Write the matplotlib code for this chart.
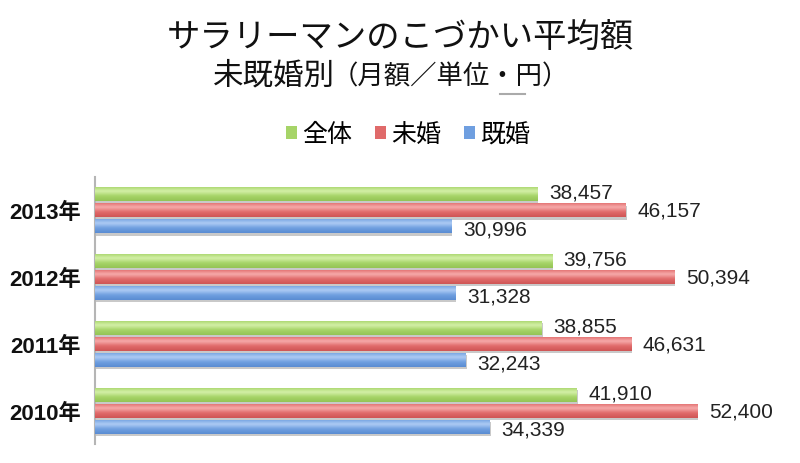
import numpy as np
import matplotlib
matplotlib.use("Agg")
import matplotlib.pyplot as plt
import matplotlib.patheffects as pe
from matplotlib.colors import LinearSegmentedColormap
from matplotlib.patches import Patch

plt.rcParams['font.family'] = ['Noto Sans CJK JP', 'DejaVu Sans']

years = ["2013年", "2012年", "2011年", "2010年"]
series_names = ["全体", "未婚", "既婚"]
zentai = [38457, 39756, 38855, 41910]
mikon = [46157, 50394, 46631, 52400]
kikon = [30996, 31328, 32243, 34339]
series_values = [zentai, mikon, kikon]

base_colors = ["#a6d468", "#e06a6a", "#6f9fe0"]
light_colors = ["#d4f0a8", "#f6aaaa", "#aecbf4"]
dark_colors = ["#94c455", "#cf5555", "#5a8cd2"]

fig = plt.figure(figsize=(8, 4.64), dpi=100)
ax = fig.add_axes([0.11875, 0.041, 0.8625, 0.5754])

n = len(years)
y = np.arange(n)[::-1]
h = 0.21
pitch = 0.24
offsets = [-pitch, 0, pitch]  # green top

ax.set_xlim(0, 60000)
ax.set_ylim(-0.5, 3.5)

for si, (vals, name) in enumerate(zip(series_values, series_names)):
    ypos = y - offsets[si]
    bars = ax.barh(ypos, vals, height=h, color=base_colors[si], label=name,
                   zorder=2,
                   path_effects=[pe.SimplePatchShadow(offset=(0.6, -1.6), shadow_rgbFace='#888888', alpha=0.45), pe.Normal()])
    cmap = LinearSegmentedColormap.from_list("g%d" % si, [dark_colors[si], base_colors[si], light_colors[si], base_colors[si]])
    grad = np.linspace(0, 1, 64).reshape(-1, 1)
    for b, v in zip(bars, vals):
        x0, y0 = b.get_x(), b.get_y()
        w, hh = b.get_width(), b.get_height()
        im = ax.imshow(grad, cmap=cmap, aspect='auto', extent=[x0, x0 + w, y0, y0 + hh],
                       origin='lower', zorder=3, interpolation='bicubic')
        im.set_clip_path(b)
        dy = {0: 0.03, 1: 0.0, 2: -0.04}[si]
        ax.text(v + 1000, b.get_y() + hh / 2 + dy, f"{v:,}", va='center', ha='left',
                fontsize=15, color='#222222', zorder=4,
                family=['Liberation Sans', 'DejaVu Sans'])

ax.set_yticks(y)
ax.set_yticklabels(years, fontsize=16, fontweight='bold', color='#111111',
                   family=['Liberation Sans', 'Noto Sans CJK JP'])
ax.tick_params(axis='y', length=0, pad=10)
ax.set_xticks([])
for s in ['top', 'right', 'bottom']:
    ax.spines[s].set_visible(False)
ax.spines['left'].set_color('#b5b5b5')
ax.spines['left'].set_linewidth(1.5)
ax.set_xlim(0, 60000)
ax.set_ylim(-0.5, 3.5)

fig.text(0.5, 0.92, "サラリーマンのこづかい平均額", ha='center', va='center', fontsize=24, color='#111111')
fig.text(0.266, 0.836, "未既婚別", ha='left', va='center', fontsize=22, color='#111111')
fig.text(0.415, 0.834, "（月額／単位・円）", ha='left', va='center', fontsize=19, color='#111111')
fig.add_artist(plt.Line2D([0.625, 0.656], [0.795, 0.795], color='#aaaaaa', lw=1.5, transform=fig.transFigure))

handles = [Patch(facecolor=c) for c in base_colors]
fig.legend(handles, series_names, loc='center', bbox_to_anchor=(0.51, 0.708), ncol=3, frameon=False,
           fontsize=18, handlelength=0.45, handleheight=0.45, handletextpad=0.2, columnspacing=0.9)

fig.savefig("out.png", dpi=100)
